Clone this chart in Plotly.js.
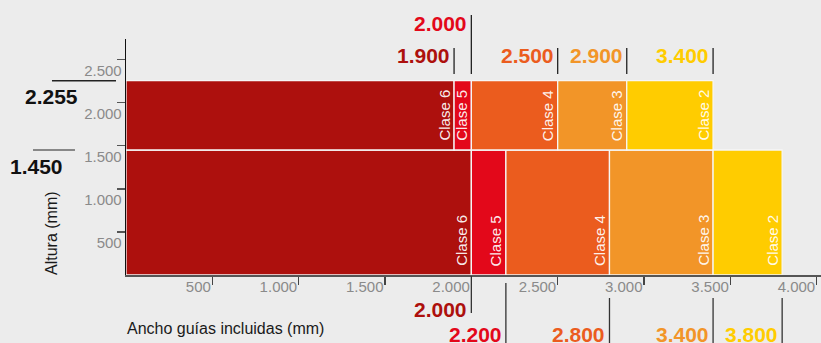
<!DOCTYPE html>
<html>
<head>
<meta charset="utf-8">
<script src="https://cdn.plot.ly/plotly-3.0.1.min.js"></script>
<style>html,body{margin:0;padding:0;background:#ececec;}#chart{width:821px;height:343px;}</style>
</head>
<body>
<div id="chart"></div>
<script>
// ---- data ----
const categories = ['Clase 6', 'Clase 5', 'Clase 4', 'Clase 3', 'Clase 2'];
const lowerStart = [0, 2000, 2200, 2800, 3400];
const lowerEnd   = [2000, 2200, 2800, 3400, 3800];
const upperStart = [0, 1900, 2000, 2500, 2900];
const upperEnd   = [1900, 2000, 2500, 2900, 3400];
const rowBase = [0, 1450];          // bottom of lower row, bottom of upper row
const rowTop  = [1450, 2255];       // top of lower row, top of upper row
const classColors = ['#ad100d', '#e3081a', '#eb5c1e', '#f29528', '#ffcc00'];
const xTicks = [500, 1000, 1500, 2000, 2500, 3000, 3500, 4000];
const yTicks = [500, 1000, 1500, 2000, 2500];
const xTitle = 'Ancho guías incluidas (mm)';
const yTitle = 'Altura (mm)';

const fmt = v => String(v).replace(/\B(?=(\d{3})+(?!\d))/g, '.');
const FONT = 'Liberation Sans, Arial, Helvetica, sans-serif';

// ---- traces: one bar trace per class, two rows each ----
const traces = categories.map((c, i) => {
  const starts = [lowerStart[i], upperStart[i]];
  const ends = [lowerEnd[i], upperEnd[i]];
  return {
    type: 'bar',
    name: c,
    x: starts.map((s, k) => (s + ends[k]) / 2),
    width: starts.map((s, k) => ends[k] - s),
    base: rowBase,
    y: rowTop.map((t, k) => t - rowBase[k]),
    marker: {color: classColors[i], line: {color: '#f6f6f6', width: 1.3}},
    hoverinfo: 'skip',
    showlegend: false
  };
});

const annotations = [];
const shapes = [];

// class labels inside bars
categories.forEach((c, i) => {
  [lowerEnd[i], upperEnd[i]].forEach((e, k) => {
    annotations.push({
      x: e, y: rowBase[k], xref: 'x', yref: 'y',
      text: c, textangle: -90, showarrow: false,
      xanchor: 'center', yanchor: 'bottom', xshift: -10, yshift: 7,
      font: {family: FONT, size: 15, color: 'rgba(255,255,255,0.93)'}
    });
  });
});

// top (upper row) boundary labels
categories.forEach((c, i) => {
  const high = (i === 1);
  const yText = high ? 1.066 : 0.928;
  const yLineTop = high ? 1.102 : 0.962;
  annotations.push({
    x: upperEnd[i], y: yText, xref: 'x', yref: 'paper',
    text: fmt(upperEnd[i]), showarrow: false, xanchor: 'right', yanchor: 'middle', xshift: -2,
    font: {family: FONT, size: 21, weight: 'bold', color: classColors[i]}
  });
  shapes.push({type: 'line', xref: 'x', yref: 'paper', x0: upperEnd[i], x1: upperEnd[i],
    y0: yLineTop, y1: 0.852, line: {color: '#222', width: 1.3}});
});

// bottom (lower row) boundary labels
categories.forEach((c, i) => {
  const first = (i === 0);
  const yText = first ? -0.148 : -0.254;
  const yLineTop = first ? -0.004 : (i === 1 ? -0.034 : -0.0975);
  const yLineBot = first ? -0.161 : -0.30;
  annotations.push({
    x: lowerEnd[i], y: yText, xref: 'x', yref: 'paper',
    text: fmt(lowerEnd[i]), showarrow: false, xanchor: 'right', yanchor: 'middle', xshift: -2,
    font: {family: FONT, size: 21, weight: 'bold', color: classColors[i]}
  });
  shapes.push({type: 'line', xref: 'x', yref: 'paper', x0: lowerEnd[i], x1: lowerEnd[i],
    y0: yLineTop, y1: yLineBot, line: {color: '#333', width: 1.3}});
});

// left height labels
const leftLabel = [
  {v: rowTop[1], xr: -0.0662, l0: -0.1065, l1: -0.0144, lc: '#222'},
  {v: rowTop[0], xr: -0.0878, l0: -0.1338, l1: -0.0734, lc: '#666'}
];
leftLabel.forEach(o => {
  annotations.push({
    x: o.xr, y: o.v, xref: 'paper', yref: 'y', text: fmt(o.v), showarrow: false,
    xanchor: 'right', yanchor: 'middle', yshift: -16,
    font: {family: FONT, size: 21, weight: 'bold', color: '#111'}
  });
  shapes.push({type: 'line', xref: 'paper', yref: 'y', x0: o.l0, x1: o.l1, y0: o.v, y1: o.v,
    line: {color: o.lc, width: 1.5}});
});

// axis titles
annotations.push({
  x: -0.1065, y: 0.178, xref: 'paper', yref: 'paper', text: yTitle, textangle: -90,
  showarrow: false, xanchor: 'center', yanchor: 'middle',
  font: {family: FONT, size: 16, color: '#1a1a1a'}
});
annotations.push({
  x: -0.0014, y: -0.2246, xref: 'paper', yref: 'paper', text: xTitle,
  showarrow: false, xanchor: 'left', yanchor: 'middle',
  font: {family: FONT, size: 16, color: '#1a1a1a'}
});

const layout = {
  width: 821, height: 343,
  margin: {l: 126, r: 0, t: 39, b: 68, pad: 0},
  paper_bgcolor: '#ececec', plot_bgcolor: '#ececec',
  barmode: 'overlay',
  showlegend: false,
  font: {family: FONT},
  xaxis: {
    range: [0, 4025], tickvals: xTicks, ticktext: xTicks.map(fmt),
    ticks: 'outside', ticklen: 8, tickwidth: 1.5, tickcolor: '#444',
    showline: true, linecolor: '#555', linewidth: 1.5,
    showgrid: false, zeroline: false,
    ticklabelposition: 'outside left',
    ticklabelstandoff: -3,
    tickfont: {family: FONT, size: 15, color: '#8a8a8a'}
  },
  yaxis: {
    range: [0, 2738], tickvals: yTicks, ticktext: yTicks.map(fmt),
    ticks: 'outside', ticklen: 8, tickwidth: 1.5, tickcolor: '#555',
    showline: true, linecolor: '#111', linewidth: 1.3,
    showgrid: false, zeroline: false,
    ticklabelposition: 'outside bottom',
    tickfont: {family: FONT, size: 15, color: '#8a8a8a'}
  },
  annotations: annotations,
  shapes: shapes
};

Plotly.newPlot('chart', traces, layout, {staticPlot: true, displayModeBar: false});
</script>
</body>
</html>
